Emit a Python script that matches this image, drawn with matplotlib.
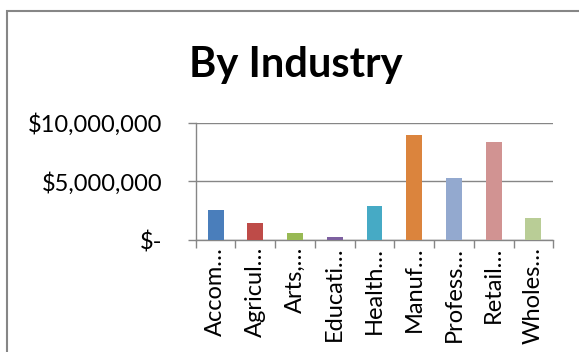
import matplotlib
matplotlib.use("Agg")
import matplotlib.pyplot as plt
from matplotlib.patches import Rectangle
from matplotlib.ticker import FixedLocator, FuncFormatter

categories = ["Accom…", "Agricul…", "Arts,…", "Educati…", "Health…",
              "Manuf…", "Profess…", "Retail…", "Wholes…"]
values = [2560000, 1450000, 600000, 280000, 2900000,
          8910000, 5320000, 8320000, 1900000]
colors = ["#4A7EBB", "#BE4B48", "#98B954", "#7D60A0", "#46AAC5",
          "#DB843D", "#93A9CF", "#D19392", "#B9CD96"]
y_ticks = [0, 5000000, 10000000]

GREY = "#868686"
plt.rcParams["font.family"] = ["Lato", "DejaVu Sans"]

fig = plt.figure(figsize=(5.79, 3.52), dpi=100)
fig.patch.set_facecolor("white")

# chart area border (runs off the right and bottom edge)
fig.patches.append(Rectangle((7 / 579, -0.05), 1.0, 1 - 11 / 352 + 0.05,
                             transform=fig.transFigure, fill=False,
                             edgecolor=GREY, linewidth=1.5))

ax = fig.add_axes([195.7 / 579, 1 - 240 / 352, (553.3 - 195.7) / 579,
                   (240 - 122.7) / 352])
x = range(len(categories))
ax.bar(x, values, width=0.4, color=colors, zorder=3)

ax.set_xlim(-0.5, len(categories) - 0.5)
ax.set_ylim(0, 10000000)
ax.yaxis.set_major_locator(FixedLocator(y_ticks))
ax.yaxis.set_major_formatter(FuncFormatter(
    lambda v, _: "$-" if v == 0 else f"${v:,.0f}"))
ax.grid(axis="y", color=GREY, linewidth=1.0, zorder=0)

ax.set_xticks([i - 0.5 for i in range(len(categories) + 1)])
ax.set_xticklabels([])
ax.set_xticks(list(x), minor=True)
ax.set_xticklabels(categories, minor=True, rotation=90, fontsize=17,
                   va="top", ha="center")
ax.tick_params(axis="x", which="minor", length=0, pad=5)
ax.tick_params(axis="x", which="major", length=5.8, color=GREY, width=1.0)
ax.tick_params(axis="y", length=5.8, color=GREY, width=1.0, labelsize=17,
               pad=18, direction="out")

for side in ("top", "right"):
    ax.spines[side].set_visible(False)
for side in ("left", "bottom"):
    ax.spines[side].set_color(GREY)
    ax.spines[side].set_linewidth(1.0)

fig.text(296 / 579, 1 - 77 / 352, "By Industry", fontsize=30,
         fontweight="bold", ha="center", va="baseline")

fig.savefig("out.png", dpi=100, facecolor="white")
